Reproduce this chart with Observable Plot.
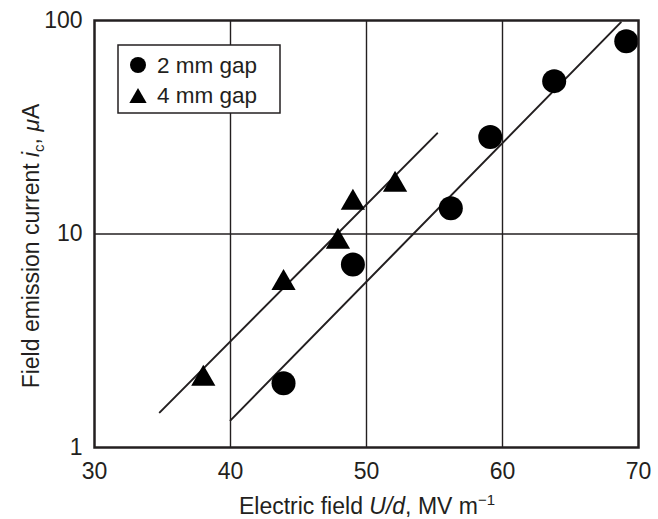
<!DOCTYPE html>
<html>
<head>
<meta charset="utf-8">
<script src="https://cdn.jsdelivr.net/npm/d3@7"></script>
<script src="https://cdn.jsdelivr.net/npm/@observablehq/plot@0.6"></script>
<style>
  body { margin: 0; background: #fff; }
  #chart svg { display: block; }
</style>
</head>
<body>
<div id="chart"></div>
<script>
// Field emission current vs. applied electric field, two electrode gaps
const seriesNames = ["2 mm gap", "4 mm gap"];

const gap2Field   = [43.9, 49.0, 56.2, 59.1, 63.8, 69.1];
const gap2Current = [2.0, 7.2, 13.2, 28.5, 52, 80];

const gap4Field   = [38.0, 43.9, 47.9, 49.0, 52.1];
const gap4Current = [2.1, 5.9, 9.2, 14.0, 17.0];

// Fitted straight lines (log-linear)
const fit2Field   = [40.0, 68.7];
const fit2Current = [1.34, 98];
const fit4Field   = [34.8, 55.2];
const fit4Current = [1.46, 29.6];

const xTicks = [30, 40, 50, 60, 70];
const yTicks = [1, 10, 100];

const ink = "#231f20";
const font = "'Liberation Sans', Arial, Helvetica, sans-serif";

const zip = (xs, ys) => xs.map((x, i) => ({x, y: ys[i]}));
const gap2 = zip(gap2Field, gap2Current);
const gap4 = zip(gap4Field, gap4Current);
const fit2 = zip(fit2Field, fit2Current);
const fit4 = zip(fit4Field, fit4Current);

const plot = Plot.plot({
  width: 658,
  height: 519,
  marginLeft: 94,
  marginRight: 20,
  marginTop: 20,
  marginBottom: 72,
  style: {fontFamily: font, fontSize: "23px", color: ink, background: "#fff"},
  x: {domain: [30, 70], label: null},
  y: {type: "log", domain: [1, 100], label: null},
  marks: [
    Plot.ruleX(xTicks.slice(1, -1), {stroke: ink, strokeWidth: 1.4}),
    Plot.ruleY(yTicks.slice(1, -1), {stroke: ink, strokeWidth: 1.4}),
    Plot.line(fit2, {x: "x", y: "y", stroke: ink, strokeWidth: 2}),
    Plot.line(fit4, {x: "x", y: "y", stroke: ink, strokeWidth: 2}),
    Plot.dot(gap2, {x: "x", y: "y", r: 12, symbol: "circle", fill: "#000", stroke: "none"}),
    Plot.dot(gap4, {x: "x", y: "y", r: 9, symbol: "triangle", fill: "#000", stroke: "none"}),
    Plot.frame({stroke: ink, strokeWidth: 2.5}),
    Plot.axisX({ticks: xTicks, tickSize: 0, tickPadding: 15, tickFormat: d => String(d), fontSize: 23, fill: ink}),
    Plot.axisY({ticks: yTicks, tickSize: 0, tickPadding: 12, tickFormat: d => String(d), fontSize: 23, fill: ink})
  ]
});

document.getElementById("chart").appendChild(plot);

// Axis titles and legend
const svg = d3.select(plot);

const xt = svg.append("text")
  .attr("x", 367).attr("y", 514)
  .attr("text-anchor", "middle")
  .attr("font-family", font).attr("font-size", 23).attr("fill", ink);
xt.append("tspan").text("Electric field ");
xt.append("tspan").attr("font-style", "italic").text("U/d");
xt.append("tspan").text(", MV m");
xt.append("tspan").attr("font-size", 15).attr("dy", -9).text("\u22121");

const yt = svg.append("text")
  .attr("transform", "translate(39,246) rotate(-90)")
  .attr("text-anchor", "middle")
  .attr("font-family", font).attr("font-size", 23).attr("fill", ink);
yt.append("tspan").text("Field emission current ");
yt.append("tspan").attr("font-style", "italic").text("i");
yt.append("tspan").attr("font-size", 15).attr("dy", 5).text("c");
yt.append("tspan").attr("dy", -5).text(", ");
yt.append("tspan").attr("font-style", "italic").text("\u03bc");
yt.append("tspan").text("A");

const lg = svg.append("g")
  .attr("font-family", font).attr("font-size", 22.5).attr("fill", ink)
  .attr("text-anchor", "start");
lg.append("rect").attr("x", 118).attr("y", 45).attr("width", 162).attr("height", 68)
  .attr("fill", "#fff").attr("stroke", ink).attr("stroke-width", 1.5);
const symbols = [d3.symbolCircle, d3.symbolTriangle];
const sizes = [Math.PI * 8 * 8, 130];
const symbolY = [65, 98];
const textY = [73, 103];
seriesNames.forEach((name, i) => {
  lg.append("path")
    .attr("transform", `translate(138,${symbolY[i]})`)
    .attr("d", d3.symbol(symbols[i], sizes[i])())
    .attr("fill", "#000");
  lg.append("text").attr("x", 157).attr("y", textY[i]).text(name);
});
</script>
</body>
</html>
